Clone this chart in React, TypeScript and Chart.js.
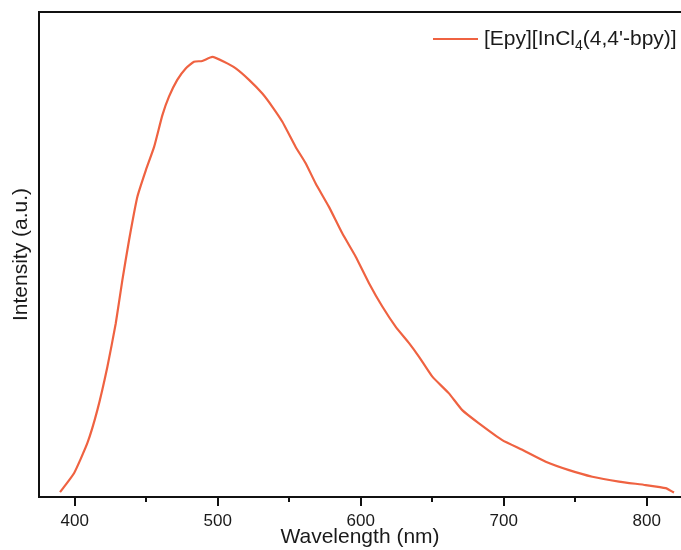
import React, { useEffect, useRef } from "react";
import { Chart, registerables } from "chart.js";

Chart.register(...registerables);

const seriesLabel = "[Epy][InCl4(4,4'-bpy)]";
const wavelengths = [
  389.7, 399.5, 408.8, 415.8, 422.8, 428.7, 433.3, 438.0, 443.8, 449.7, 455.5, 461.3,
  465.9, 471.7, 477.6, 483.4, 489.2, 496.2, 504.4, 512.6, 521.9, 531.2, 538.2, 545.2,
  554.5, 561.5, 568.5, 577.8, 587.1, 596.5, 605.8, 615.1, 624.5, 633.8, 640.8, 650.1,
  661.7, 671.0, 682.7, 699.0, 713.0, 729.4, 745.7, 762.0, 780.6, 799.3, 813.3, 819.1,
];
const intensity = [
  0.011, 0.054, 0.122, 0.197, 0.295, 0.394, 0.492, 0.583, 0.681, 0.741, 0.794, 0.866,
  0.908, 0.946, 0.972, 0.987, 0.989, 0.998, 0.987, 0.972, 0.946, 0.915, 0.885, 0.851,
  0.794, 0.757, 0.711, 0.658, 0.598, 0.545, 0.485, 0.432, 0.386, 0.349, 0.318, 0.273,
  0.235, 0.197, 0.167, 0.129, 0.107, 0.080, 0.061, 0.046, 0.035, 0.027, 0.020, 0.010,
];
const minorTicks = [450, 550, 650, 750];

const LINE_COLOR = "#EF6241";
const FONT = "'Liberation Sans', Arial, sans-serif";
const TEXT = "#1a1a1a";

export default function App() {
  const ref = useRef<HTMLCanvasElement | null>(null);

  useEffect(() => {
    document.body.style.margin = "0";
    const canvas = ref.current;
    if (!canvas) return;

    const framePlugin = {
      id: "frameTicksLegend",
      afterDraw(chart: any) {
        const { ctx, chartArea } = chart;
        const xs = chart.scales.x;
        ctx.save();
        ctx.strokeStyle = "#111";
        ctx.lineWidth = 2;
        ctx.beginPath();
        ctx.moveTo(chartArea.right + 2, chartArea.top);
        ctx.lineTo(chartArea.left, chartArea.top);
        ctx.lineTo(chartArea.left, chartArea.bottom);
        ctx.lineTo(chartArea.right + 2, chartArea.bottom);
        ctx.stroke();
        for (const t of xs.ticks) {
          const px = Math.round(xs.getPixelForValue(t.value));
          ctx.beginPath();
          ctx.moveTo(px, chartArea.bottom);
          ctx.lineTo(px, chartArea.bottom + 9);
          ctx.stroke();
        }
        for (const v of minorTicks) {
          const px = Math.round(xs.getPixelForValue(v));
          ctx.beginPath();
          ctx.moveTo(px, chartArea.bottom);
          ctx.lineTo(px, chartArea.bottom + 5);
          ctx.stroke();
        }
        const ly = 39;
        ctx.strokeStyle = LINE_COLOR;
        ctx.lineWidth = 2;
        ctx.beginPath();
        ctx.moveTo(433, ly);
        ctx.lineTo(478, ly);
        ctx.stroke();
        ctx.fillStyle = TEXT;
        ctx.textBaseline = "middle";
        ctx.textAlign = "left";
        let x = 484;
        const big = "21px " + FONT;
        const small = "14px " + FONT;
        ctx.font = big;
        const p1 = "[Epy][InCl";
        ctx.fillText(p1, x, ly);
        x += ctx.measureText(p1).width;
        ctx.font = small;
        ctx.fillText("4", x, ly + 7);
        x += ctx.measureText("4").width;
        ctx.font = big;
        ctx.fillText("(4,4'-bpy)]", x, ly);
        ctx.restore();
      },
    };

    const chart = new Chart(canvas, {
      type: "line",
      data: {
        datasets: [
          {
            label: seriesLabel,
            data: wavelengths.map((w, i) => ({ x: w, y: intensity[i] })),
            borderColor: LINE_COLOR,
            borderWidth: 2.2,
            pointRadius: 0,
            tension: 0.15,
            fill: false,
          },
        ],
      },
      options: {
        animation: false,
        responsive: false,
        layout: { padding: { top: 12, right: 0, left: 0, bottom: 0 } },
        plugins: { legend: { display: false }, tooltip: { enabled: false } },
        scales: {
          x: {
            type: "linear",
            min: 375,
            max: 824,
            border: { display: false },
            grid: {
              display: true,
              drawOnChartArea: false,
              color: "rgba(0,0,0,0)",
              tickLength: 9,
            },
            ticks: {
              stepSize: 100,
              includeBounds: false,
              autoSkip: false,
              maxRotation: 0,
              padding: 5,
              color: TEXT,
              font: { family: FONT, size: 17 },
            },
            title: {
              display: true,
              text: "Wavelength (nm)",
              color: TEXT,
              font: { family: FONT, size: 21 },
              padding: { top: 0, bottom: 0 },
            },
            afterFit: (s: any) => {
              s.height = 53;
            },
          },
          y: {
            min: 0,
            max: 1.1,
            border: { display: false },
            grid: { display: false },
            ticks: { display: false },
            title: {
              display: true,
              text: "Intensity (a.u.)",
              color: TEXT,
              font: { family: FONT, size: 21 },
              padding: { top: 9, bottom: 0 },
            },
            afterFit: (s: any) => {
              s.width = 39;
            },
          },
        },
      },
      plugins: [framePlugin],
    });

    return () => chart.destroy();
  }, []);

  return <canvas ref={ref} width={681} height={550} style={{ display: "block" }} />;
}
